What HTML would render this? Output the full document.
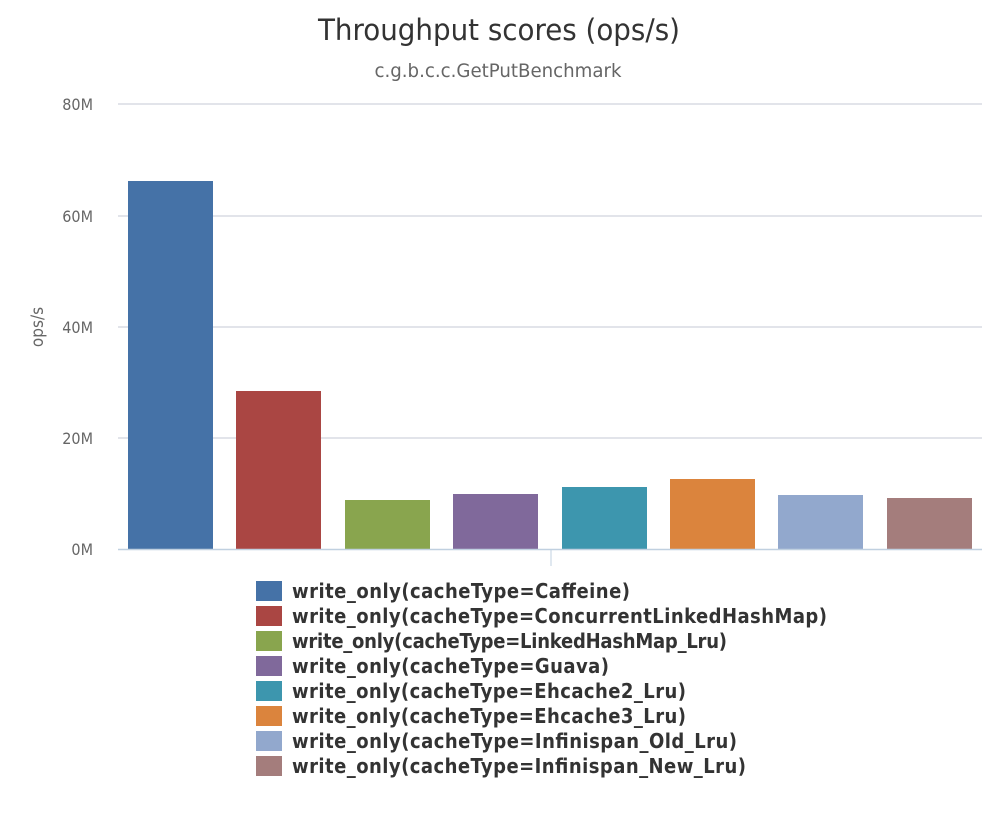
<!DOCTYPE html>
<html><head><meta charset="utf-8"><style>
body{margin:0;background:#fff;}
text{font-family:"DejaVu Sans Condensed","DejaVu Sans","Liberation Sans",sans-serif;}
</style></head><body>
<svg width="1000" height="812" viewBox="0 0 1000 812" xmlns="http://www.w3.org/2000/svg">
<text x="499" y="40" text-anchor="middle" font-size="29" fill="#333" textLength="362" lengthAdjust="spacingAndGlyphs">Throughput scores (ops/s)</text>
<text x="498" y="77" text-anchor="middle" font-size="19" fill="#666" textLength="247" lengthAdjust="spacingAndGlyphs">c.g.b.c.c.GetPutBenchmark</text>
<g stroke="#d8dce3" stroke-width="1.5">
<line x1="118" y1="104" x2="982" y2="104"/>
<line x1="118" y1="216" x2="982" y2="216"/>
<line x1="118" y1="327" x2="982" y2="327"/>
<line x1="118" y1="438" x2="982" y2="438"/>
</g>
<g font-size="16" fill="#666" text-anchor="end">
<text x="93" y="110">80M</text>
<text x="93" y="222">60M</text>
<text x="93" y="333">40M</text>
<text x="93" y="444">20M</text>
<text x="93" y="555">0M</text>
</g>
<text transform="translate(43,327) rotate(-90)" text-anchor="middle" font-size="17" fill="#666">ops/s</text>
<rect x="128" y="181" width="85" height="368" fill="#4572a7"/>
<rect x="236" y="391" width="85" height="158" fill="#aa4643"/>
<rect x="345" y="500" width="85" height="49" fill="#89a54e"/>
<rect x="453" y="494" width="85" height="55" fill="#80699b"/>
<rect x="562" y="487" width="85" height="62" fill="#3d96ae"/>
<rect x="670" y="479" width="85" height="70" fill="#db843d"/>
<rect x="778" y="495" width="85" height="54" fill="#92a8cd"/>
<rect x="887" y="498" width="85" height="51" fill="#a47d7c"/>
<line x1="118" y1="549.5" x2="982" y2="549.5" stroke="#c0d0e0" stroke-width="1.5"/>
<line x1="551" y1="549" x2="551" y2="566" stroke="#c0d0e0" stroke-width="1"/>
<g font-size="20" font-weight="bold" fill="#333" lengthAdjust="spacingAndGlyphs">
<rect x="256" y="581" width="26" height="20" fill="#4572a7"/><text x="292" y="598" textLength="338">write_only(cacheType=Caffeine)</text>
<rect x="256" y="606" width="26" height="20" fill="#aa4643"/><text x="292" y="623" textLength="535">write_only(cacheType=ConcurrentLinkedHashMap)</text>
<rect x="256" y="631" width="26" height="20" fill="#89a54e"/><text x="292" y="648" textLength="435">write_only(cacheType=LinkedHashMap_Lru)</text>
<rect x="256" y="656" width="26" height="20" fill="#80699b"/><text x="292" y="673" textLength="317">write_only(cacheType=Guava)</text>
<rect x="256" y="681" width="26" height="20" fill="#3d96ae"/><text x="292" y="698" textLength="394">write_only(cacheType=Ehcache2_Lru)</text>
<rect x="256" y="706" width="26" height="20" fill="#db843d"/><text x="292" y="723" textLength="394">write_only(cacheType=Ehcache3_Lru)</text>
<rect x="256" y="731" width="26" height="20" fill="#92a8cd"/><text x="292" y="748" textLength="445">write_only(cacheType=Infinispan_Old_Lru)</text>
<rect x="256" y="756" width="26" height="20" fill="#a47d7c"/><text x="292" y="773" textLength="454">write_only(cacheType=Infinispan_New_Lru)</text>
</g>
</svg>
</body></html>
